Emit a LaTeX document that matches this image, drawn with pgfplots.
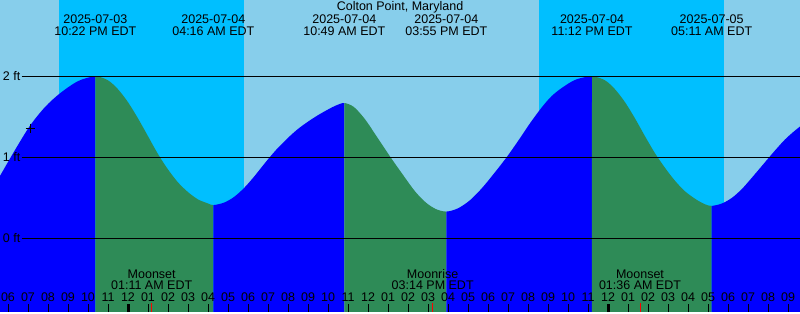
\documentclass[border=0pt]{standalone}
\usepackage{fontspec}
\setmainfont{Liberation Sans}
\usepackage{pgfplots}
\usepackage{pgfplotstable}
\pgfplotsset{compat=1.18}
\usepgfplotslibrary{fillbetween}
\definecolor{daysky}{HTML}{87CEEB}
\definecolor{nightsky}{HTML}{00BFFF}
\definecolor{flood}{HTML}{0000FF}
\definecolor{ebb}{HTML}{2E8B57}

% time in hours from 2025-07-04 00:00 EDT, tide height in ft
\pgfplotstableread{
t h
-6.4 0.77
-5.65 1.09
-4.9 1.39
-4.15 1.62
-3.4 1.79
-2.5 1.94
-1.633 2.00
-1.0 1.95
-0.5 1.84
0.0 1.68
0.5 1.48
1.0 1.26
1.5 1.04
2.0 0.85
2.5 0.69
3.0 0.57
3.5 0.48
4.0 0.43
4.267 0.41
4.8 0.44
5.3 0.51
5.8 0.62
6.3 0.76
6.85 0.93
7.4 1.09
8.0 1.24
8.5 1.35
9.0 1.44
9.5 1.52
10.0 1.59
10.4 1.64
10.817 1.67
11.3 1.62
11.85 1.47
12.4 1.27
13.13 1.00
13.7 0.80
14.35 0.58
14.9 0.44
15.4 0.36
15.917 0.33
16.5 0.37
17.1 0.47
17.7 0.62
18.3 0.80
18.93 1.00
19.5 1.20
20.1 1.42
20.7 1.62
21.2 1.76
21.77 1.87
22.4 1.96
23.2 2.00
23.85 1.95
24.35 1.84
24.85 1.68
25.35 1.48
25.85 1.26
26.35 1.05
26.85 0.87
27.35 0.71
27.85 0.58
28.4 0.48
28.85 0.42
29.183 0.40
29.7 0.43
30.2 0.50
30.7 0.61
31.2 0.75
31.75 0.91
32.3 1.07
32.85 1.22
33.3 1.32
33.6 1.38
}\tide

\begin{document}
\begin{tikzpicture}[font=\fontsize{12.5bp}{15bp}\selectfont]
\begin{axis}[
  scale only axis, width=800bp, height=312bp,
  xmin=-6.4, xmax=33.6, ymin=-0.910, ymax=2.942,
  enlargelimits=false, clip=true,
  axis background/.style={fill=daysky},
  axis line style={draw=none},
  axis on top,
  ytick=\empty,
  xtick={-6,...,33},
  xticklabels={06,07,08,09,10,11,12,01,02,03,04,05,06,07,08,09,10,11,12,01,02,03,04,05,06,07,08,09,10,11,12,01,02,03,04,05,06,07,08,09},
  xtick pos=left,
  tick align=inside,
  major tick length=7.5bp,
  x tick style={black, line width=1bp},
  xticklabel style={anchor=base, yshift=10.3bp, inner sep=0pt},
  extra x ticks={0,24},
  extra x tick labels={},
  extra x tick style={major tick length=7.5bp, x tick style={black, line width=3bp}},
  /pgf/number format/assume math mode=true,
  /tikz/fill between/on layer=main,
]
% night bands
\addplot[fill=nightsky, draw=none] coordinates {(-3.45,-1) (-3.45,3) (5.8,3) (5.8,-1)} -- cycle;
\addplot[fill=nightsky, draw=none] coordinates {(20.55,-1) (20.55,3) (29.8,3) (29.8,-1)} -- cycle;
% tide
\addplot[name path=tide, draw=none, smooth] table[x=t, y=h] {\tide};
\addplot[name path=bot, draw=none] coordinates {(-7,-1) (34,-1)};
\addplot[fill=flood, draw=none] fill between[of=tide and bot, soft clip={domain=-7:-1.633}];
\addplot[fill=ebb, draw=none] fill between[of=tide and bot, soft clip={domain=-1.633:4.267}];
\addplot[fill=flood, draw=none] fill between[of=tide and bot, soft clip={domain=4.267:10.817}];
\addplot[fill=ebb, draw=none] fill between[of=tide and bot, soft clip={domain=10.817:15.917}];
\addplot[fill=flood, draw=none] fill between[of=tide and bot, soft clip={domain=15.917:23.2}];
\addplot[fill=ebb, draw=none] fill between[of=tide and bot, soft clip={domain=23.2:29.183}];
\addplot[fill=flood, draw=none] fill between[of=tide and bot, soft clip={domain=29.183:34}];
% level lines
\addplot[black, line width=1bp] coordinates {(-5.315,2) (33.6,2)};
\addplot[black, line width=1bp] coordinates {(-5.315,1) (33.6,1)};
\addplot[black, line width=1bp] coordinates {(-5.315,0) (33.6,0)};
% moon event ticks
\addplot[red, line width=1bp] coordinates {(1.183,-0.910) (1.183,-0.80)};
\addplot[red, line width=1bp] coordinates {(15.233,-0.910) (15.233,-0.80)};
\addplot[red, line width=1bp] coordinates {(25.6,-0.910) (25.6,-0.80)};
% current time mark
\addplot[only marks, mark=+, mark size=4.5bp, black, line width=1bp, mark options={line width=1bp}] coordinates {(-4.9,1.36)};
% level labels
\node[anchor=base west, inner sep=0pt] at (axis cs:-6.265,1.951) {2 ft};
\node[anchor=base west, inner sep=0pt] at (axis cs:-6.265,0.951) {1 ft};
\node[anchor=base west, inner sep=0pt] at (axis cs:-6.265,-0.049) {0 ft};
% title
\node[anchor=base, inner sep=0pt] at (axis cs:13.6,2.812) {Colton Point, Maryland};
% tide events
\node[anchor=base, inner sep=0pt] at (axis cs:-1.633,2.646) {2025-07-03};
\node[anchor=base, inner sep=0pt] at (axis cs:-1.633,2.498) {10:22 PM EDT};
\node[anchor=base, inner sep=0pt] at (axis cs:4.267,2.646) {2025-07-04};
\node[anchor=base, inner sep=0pt] at (axis cs:4.267,2.498) {04:16 AM EDT};
\node[anchor=base, inner sep=0pt] at (axis cs:10.817,2.646) {2025-07-04};
\node[anchor=base, inner sep=0pt] at (axis cs:10.817,2.498) {10:49 AM EDT};
\node[anchor=base, inner sep=0pt] at (axis cs:15.917,2.646) {2025-07-04};
\node[anchor=base, inner sep=0pt] at (axis cs:15.917,2.498) {03:55 PM EDT};
\node[anchor=base, inner sep=0pt] at (axis cs:23.2,2.646) {2025-07-04};
\node[anchor=base, inner sep=0pt] at (axis cs:23.2,2.498) {11:12 PM EDT};
\node[anchor=base, inner sep=0pt] at (axis cs:29.183,2.646) {2025-07-05};
\node[anchor=base, inner sep=0pt] at (axis cs:29.183,2.498) {05:11 AM EDT};
% moon events
\node[anchor=base, inner sep=0pt] at (axis cs:1.183,-0.494) {Moonset};
\node[anchor=base, inner sep=0pt] at (axis cs:1.183,-0.638) {01:11 AM EDT};
\node[anchor=base, inner sep=0pt] at (axis cs:15.233,-0.494) {Moonrise};
\node[anchor=base, inner sep=0pt] at (axis cs:15.233,-0.638) {03:14 PM EDT};
\node[anchor=base, inner sep=0pt] at (axis cs:25.6,-0.494) {Moonset};
\node[anchor=base, inner sep=0pt] at (axis cs:25.6,-0.638) {01:36 AM EDT};
\end{axis}
\end{tikzpicture}
\end{document}
